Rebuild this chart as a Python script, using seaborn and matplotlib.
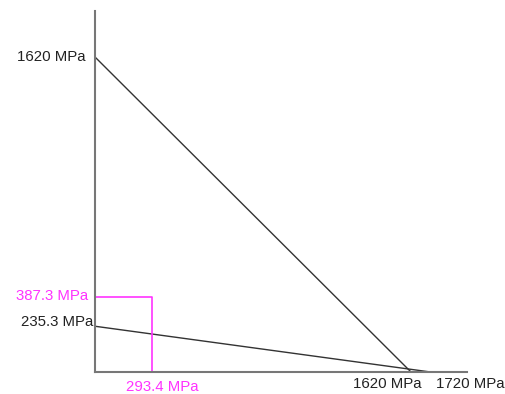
import matplotlib
matplotlib.use("Agg")
import matplotlib.pyplot as plt
import seaborn as sns
import pandas as pd

sns.set_theme(style="white")
plt.rcParams["font.family"] = ["Liberation Sans", "DejaVu Sans"]

# Intercepts of the two strength lines (MPa)
upper_y = 1620.0
upper_x = 1620.0
lower_y = 235.3
lower_x = 1720.0
# Working point drawn as a magenta box
point_x = 293.4
point_y = 387.3

upper = pd.DataFrame({"x": [0.0, upper_x], "y": [upper_y, 0.0]})
lower = pd.DataFrame({"x": [0.0, lower_x], "y": [lower_y, 0.0]})
box = pd.DataFrame({"x": [0.0, point_x, point_x], "y": [point_y, point_y, 0.0]})

W, H = 506, 394
fig = plt.figure(figsize=(W / 100, H / 100), dpi=100)
x0, y0, x1, y1 = 95, 372, 467, 11
ax = fig.add_axes([x0 / W, (H - y0) / H, (x1 - x0) / W, (y0 - y1) / H])

ax.set_xlim(0, (x1 - x0) / (316 / 1620.0))
ax.set_ylim(0, (y0 - y1) / (315 / 1620.0))

dark = "#333333"
mag = "#ff33ff"
kw = dict(x="x", y="y", ax=ax, sort=False, estimator=None, errorbar=None)
sns.lineplot(data=upper, color=dark, lw=1.0, **kw)
sns.lineplot(data=lower, color=dark, lw=1.0, **kw)
sns.lineplot(data=box, color=mag, lw=1.2, **kw)

for s in ["top", "right"]:
    ax.spines[s].set_visible(False)
for s in ["left", "bottom"]:
    ax.spines[s].set_color("#777777")
    ax.spines[s].set_linewidth(1.5)
ax.set_xticks([])
ax.set_yticks([])
ax.set_xlabel("")
ax.set_ylabel("")
ax.patch.set_alpha(0)

fs = 10.8
ax.annotate(f"{upper_y:g} MPa", (0, upper_y), xytext=(-9, 0), textcoords="offset pixels",
            ha="right", va="center", fontsize=fs, color="#222222")
ax.annotate(f"{lower_y:g} MPa", (0, lower_y), xytext=(-2, 4), textcoords="offset pixels",
            ha="right", va="center", fontsize=fs, color="#222222")
ax.annotate(f"{point_y:g} MPa", (0, point_y), xytext=(-7, 1), textcoords="offset pixels",
            ha="right", va="center", fontsize=fs, color=mag)
ax.annotate(f"{point_x:g} MPa", (point_x, 0), xytext=(10, -15), textcoords="offset pixels",
            ha="center", va="center", fontsize=fs, color=mag, annotation_clip=False)
ax.annotate(f"{upper_x:g} MPa", (upper_x, 0), xytext=(-24, -12), textcoords="offset pixels",
            ha="center", va="center", fontsize=fs, color="#222222", annotation_clip=False)
ax.annotate(f"{lower_x:g} MPa", (lower_x, 0), xytext=(40, -12), textcoords="offset pixels",
            ha="center", va="center", fontsize=fs, color="#222222", annotation_clip=False)

fig.savefig("out.png", dpi=100)
